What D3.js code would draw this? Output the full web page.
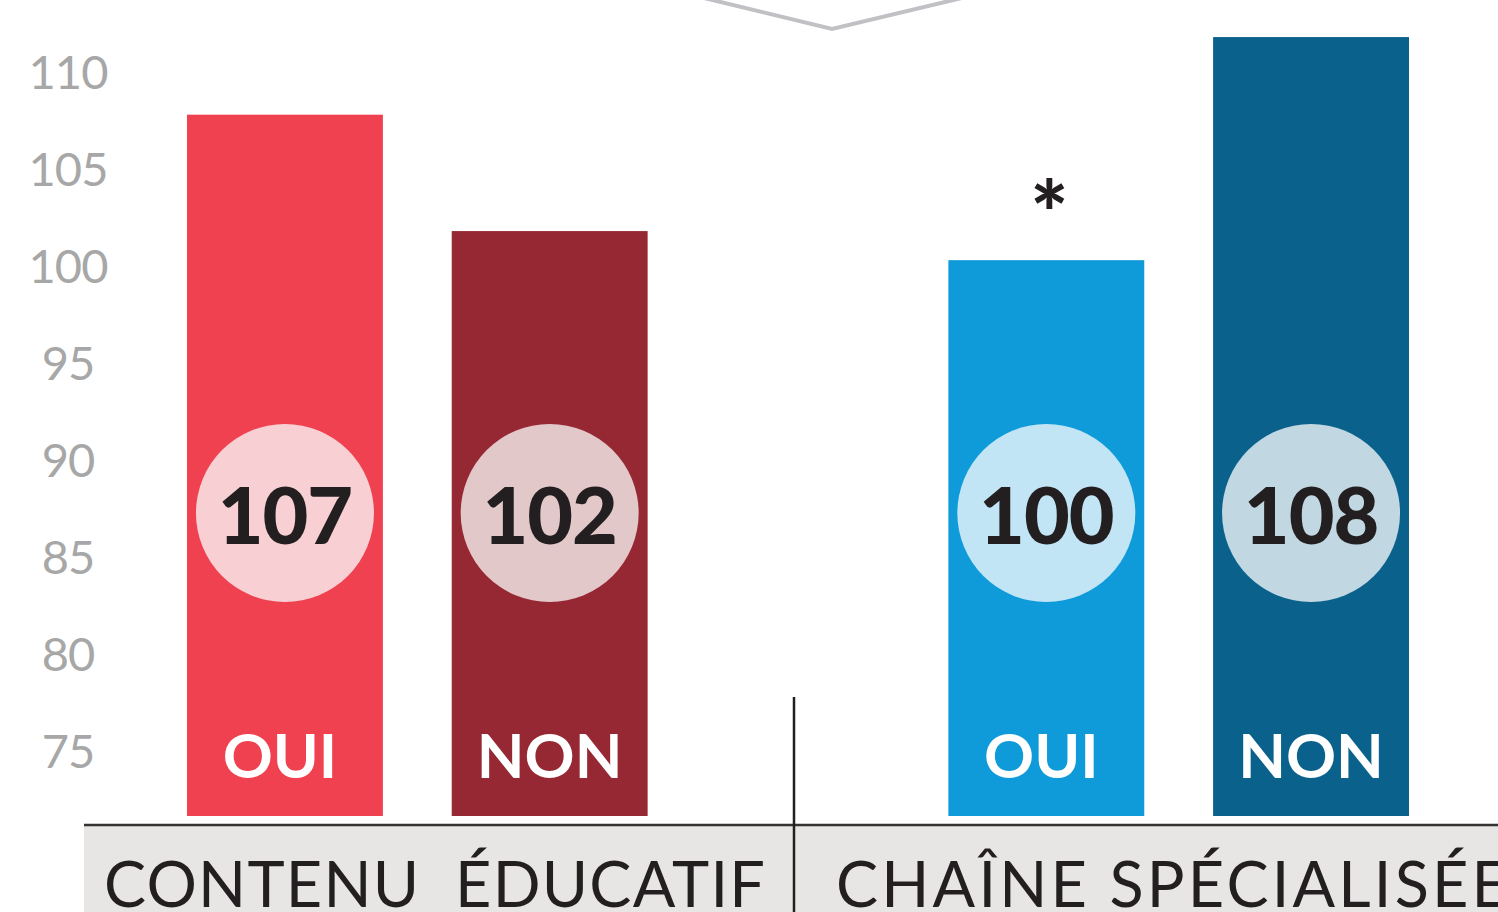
<!DOCTYPE html>
<html>
<head>
<meta charset="utf-8">
<script src="https://cdn.jsdelivr.net/npm/d3@7"></script>
<style>
  html, body { margin: 0; padding: 0; background: #fff; overflow: hidden; }
  svg { display: block; font-family: Lato, "Open Sans", sans-serif; }
</style>
</head>
<body>
<svg id="chart" width="1498" height="912"></svg>
<script>
// données
const groups = ["CONTENU  ÉDUCATIF", "CHAÎNE SPÉCIALISÉE"];
const answers = ["OUI", "NON"];
const barHeights = [107.8, 101.8, 100.3, 111.8];   // hauteur dessinée (échelle de l'axe)
const barLabels = ["107", "102", "100", "108"];      // valeur affichée dans le cercle
const yTicks = [75, 80, 85, 90, 95, 100, 105, 110];
const baseValue = 71.65;                              // pied des barres
const barColors = ["#ef4150", "#952833", "#0f9bd9", "#0a628c"];
const circleColors = ["#f8cfd3", "#e3c8ca", "#c1e5f5", "#c1d7e2"];
const starred = [false, false, true, false];

const svg = d3.select("#chart");
const W = +svg.attr("width"), H = +svg.attr("height");

const bars = [];
groups.forEach((g, gi) => answers.forEach((a, ai) => {
  const i = gi * answers.length + ai;
  bars.push({ group: g, answer: a, h: barHeights[i], label: barLabels[i],
              color: barColors[i], circle: circleColors[i], star: starred[i] });
}));

const y = d3.scaleLinear().domain([75, 110]).range([751, 72]);
const x0 = d3.scaleBand().domain(groups).range([187, 1409]).paddingInner(0.395).paddingOuter(0);
const x1 = d3.scaleBand().domain(answers).range([0, x0.bandwidth()]).paddingInner(0.26).paddingOuter(0);

// chevron gris en haut
svg.append("path")
  .attr("d", "M700,-3 L832,29 L966,-3")
  .attr("fill", "none").attr("stroke", "#c1c1c5").attr("stroke-width", 4);

// axe Y (texte seulement)
const yAxis = svg.append("g")
  .attr("transform", "translate(68,0)")
  .call(d3.axisLeft(y).tickValues(yTicks).tickSize(0).tickPadding(0));
yAxis.select(".domain").remove();
yAxis.selectAll("text")
  .attr("text-anchor", "middle")
  .attr("dy", "0.36em")
  .attr("fill", "#a7a7a7")
  .style("font-size", "47px")
  .style("font-family", "Lato, sans-serif")
  .style("letter-spacing", "-1px");

// bande grise + ligne de base
svg.append("rect").attr("x", 84).attr("y", 826).attr("width", W - 84).attr("height", H - 826)
  .attr("fill", "#e7e6e4");
svg.append("line").attr("x1", 84).attr("x2", W).attr("y1", 825).attr("y2", 825)
  .attr("stroke", "#333").attr("stroke-width", 2.5);
svg.append("line").attr("x1", 794).attr("x2", 794).attr("y1", 697).attr("y2", H)
  .attr("stroke", "#231f20").attr("stroke-width", 2.5);

// barres
const bx = d => x0(d.group) + x1(d.answer);
const bw = x1.bandwidth();
const bar = svg.selectAll("g.bar").data(bars).join("g").attr("class", "bar");

bar.append("rect")
  .attr("x", bx)
  .attr("y", d => y(d.h))
  .attr("width", bw)
  .attr("height", d => y(baseValue) - y(d.h))
  .attr("fill", d => d.color);

bar.append("circle")
  .attr("cx", d => bx(d) + bw / 2)
  .attr("cy", 513)
  .attr("r", 89)
  .attr("fill", d => d.circle);

bar.append("text")
  .attr("x", d => bx(d) + bw / 2)
  .attr("y", 544)
  .attr("text-anchor", "middle")
  .attr("fill", "#231f20")
  .style("font-size", "79px")
  .style("font-weight", 900)
  .style("letter-spacing", "-1px")
  .text(d => d.label);

bar.append("text")
  .attr("x", d => bx(d) + bw / 2 - (d.answer === "OUI" ? 5 : 0))
  .attr("y", 778)
  .attr("text-anchor", "middle")
  .attr("fill", "#fff")
  .style("font-size", "62px")
  .style("font-weight", 700)
  .text(d => d.answer);

bar.filter(d => d.star).append("text")
  .attr("x", d => bx(d) + bw / 2 + 3)
  .attr("y", 246)
  .attr("text-anchor", "middle")
  .attr("fill", "#231f20")
  .style("font-size", "90px")
  .style("font-weight", 900)
  .text("*");

// libellés des groupes
const groupLabelX = [104, 836];
svg.selectAll("text.group").data(groups).join("text")
  .attr("class", "group")
  .attr("x", (d, i) => groupLabelX[i])
  .attr("y", 907)
  .attr("fill", "#231f20")
  .attr("textLength", (d, i) => i === 0 ? 661 : 672)
  .attr("lengthAdjust", "spacing")
  .style("font-size", "63px")
  .style("font-weight", 400)
  .style("white-space", "pre")
  .text(d => d);
</script>
</body>
</html>
